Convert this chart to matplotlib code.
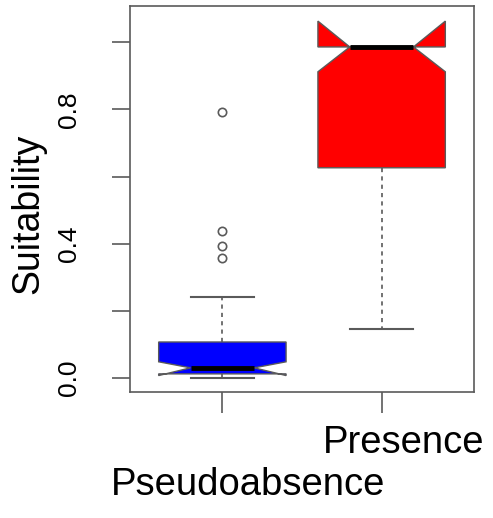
import numpy as np
import matplotlib
matplotlib.use("Agg")
import matplotlib.pyplot as plt
from matplotlib.transforms import ScaledTranslation, blended_transform_factory

plt.rcParams['font.family'] = ['Liberation Sans', 'DejaVu Sans']

# box statistics
groups = ["Pseudoabsence", "Presence"]
whislo = [0.000, 0.146]
q1 = [0.012, 0.626]
med = [0.030, 0.986]
q3 = [0.107, 0.986]
whishi = [0.241, 0.986]
notch_lo = [0.007, 0.912]
notch_hi = [0.048, 1.063]
outliers = [[0.792, 0.438, 0.394, 0.358], []]
fills = ["#0000ff", "#ff0000"]

grey = "#5a5a5a"

stats = []
for i in range(len(groups)):
    stats.append(dict(label=groups[i], whislo=whislo[i], q1=q1[i], med=med[i],
                      q3=q3[i], whishi=whishi[i], cilo=notch_lo[i],
                      cihi=notch_hi[i], fliers=np.array(outliers[i])))

fig = plt.figure(figsize=(4.93, 5.18), dpi=100)
ax = fig.add_axes([130/493, 1-392/518, 344/493, 386/518])

bp = ax.bxp(stats, positions=[1, 2], widths=0.8, shownotches=True,
            patch_artist=True,
            boxprops=dict(edgecolor=grey, linewidth=1.0),
            whiskerprops=dict(color=grey, linestyle=(0, (2.5, 2.5)), linewidth=1.2),
            capprops=dict(color=grey, linewidth=1.5),
            medianprops=dict(color='black', linewidth=3.5, solid_capstyle='butt', zorder=5),
            flierprops=dict(marker='o', markerfacecolor='none', markeredgecolor=grey,
                            markersize=6, markeredgewidth=1.2))
for patch, c in zip(bp['boxes'], fills):
    patch.set_facecolor(c)

ax.set_xlim(0.42, 2.58)
ax.set_ylim(-0.042, 1.108)

for s in ax.spines.values():
    s.set_color(grey)
    s.set_linewidth(1.2)

ax.set_yticks([0.0, 0.2, 0.4, 0.6, 0.8, 1.0])
ax.set_yticklabels(['0.0', '', '0.4', '', '0.8', ''], rotation=90, va='center')
ax.tick_params(axis='y', length=13, width=1.2, color=grey, labelsize=19, pad=22)

# R staggers the group names on two lines
ax.set_xticks([1, 2])
ax.set_xticklabels(['', groups[1]])
ax.tick_params(axis='x', length=15, width=1.2, color=grey, labelsize=27.5, pad=9)
off = ScaledTranslation(22/100, 0, fig.dpi_scale_trans)
for lab in ax.get_xticklabels():
    lab.set_transform(lab.get_transform() + off)

trans = blended_transform_factory(ax.transData, fig.transFigure)
ax.text(1, 1-495/518, groups[0], transform=trans + ScaledTranslation(26/100, 0, fig.dpi_scale_trans),
        ha='center', va='baseline', fontsize=27.5)

fig.text(28/493, 1-214/518, 'Suitability', rotation=90, ha='center', va='center',
         fontsize=27)

fig.savefig('out.png', dpi=100)
